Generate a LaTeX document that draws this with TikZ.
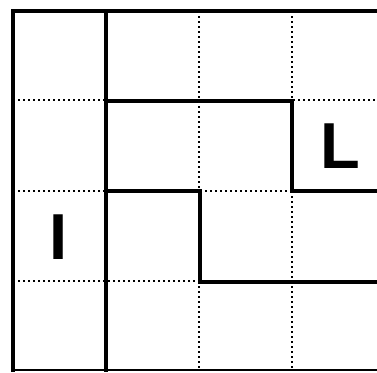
\documentclass[tikz,border=0pt]{standalone}
\usepackage{fontspec}
\setmainfont{Liberation Sans}
\begin{document}
\begin{tikzpicture}[x=1pt,y=-1pt,
  thickline/.style={line width=4pt,line cap=rect,line join=miter},
  dotline/.style={line width=1.8pt,dash pattern=on 2pt off 3pt},
  thinline/.style={line width=2pt},
  letter/.style={font=\fontsize{65}{65}\selectfont\bfseries,inner sep=0pt}]
\useasboundingbox[fill=white] (0,0) rectangle (377,372);
% dotted grid lines
\draw[dotline] (13,100) -- (105,100);
\draw[dotline] (293,100) -- (380,100);
\draw[dotline] (13,191) -- (105,191);
\draw[dotline] (200,191) -- (293,191);
\draw[dotline] (13,281) -- (200,281);
\draw[dotline] (199,11) -- (199,191);
\draw[dotline] (199,281) -- (199,370);
\draw[dotline] (292,11) -- (292,100);
\draw[dotline] (292,191) -- (292,370);
% bottom edge
\draw[thinline] (13,370) -- (380,370);
% thick lines
\draw[thickline] (13,370) -- (13,11) -- (380,11);
\draw[thickline] (106,11) -- (106,370);
\draw[thickline] (106,101) -- (292,101) -- (292,191) -- (380,191);
\draw[thickline] (106,191) -- (200,191) -- (200,282) -- (380,282);
% letters
\node[letter] (L) at (340,146) {L};
\node[letter] (I) at (59,237) {I};
\end{tikzpicture}
\end{document}
